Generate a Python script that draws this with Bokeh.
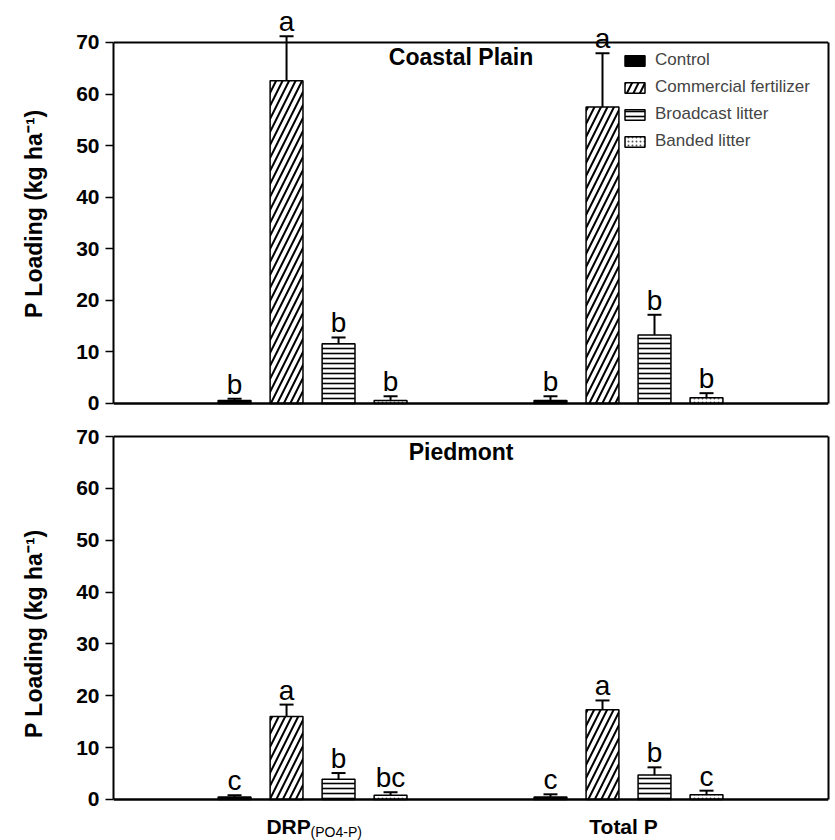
from bokeh.plotting import figure
from bokeh.layouts import column
from bokeh.models import (ColumnDataSource, Whisker, TeeHead, LabelSet, Label,
                          Legend, LegendItem, Range1d, FixedTicker, LinearAxis, Span)
from bokeh.core.properties import value
from bokeh.embed import file_html
from bokeh.resources import INLINE

# ---------------- data ----------------
groups = ["DRP", "Total P"]
treatments = ["Control", "Commercial fertilizer", "Broadcast litter", "Banded litter"]

coastal_drp = [0.6, 62.6, 11.6, 0.6]
coastal_drp_err = [0.3, 8.6, 1.2, 0.8]
coastal_tp = [0.6, 57.5, 13.3, 1.1]
coastal_tp_err = [0.8, 10.4, 3.9, 0.9]
coastal_letters_drp = ["b", "a", "b", "b"]
coastal_letters_tp = ["b", "a", "b", "b"]

piedmont_drp = [0.5, 16.0, 3.9, 0.8]
piedmont_drp_err = [0.3, 2.3, 1.2, 0.6]
piedmont_tp = [0.5, 17.3, 4.7, 0.9]
piedmont_tp_err = [0.5, 1.8, 1.5, 0.8]
piedmont_letters_drp = ["c", "a", "b", "bc"]
piedmont_letters_tp = ["c", "a", "b", "c"]

y_ticks = [0, 10, 20, 30, 40, 50, 60, 70]
y_max = 70

# ---------------- styling ----------------
FONT = "Liberation Sans"
styles = [
    dict(fill_color="black"),
    dict(fill_color="white", hatch_pattern="/", hatch_scale=13, hatch_weight=2, hatch_color="black"),
    dict(fill_color="white", hatch_pattern="-", hatch_scale=5, hatch_weight=1.6, hatch_color="black"),
    dict(fill_color="white", hatch_pattern=".", hatch_scale=4, hatch_weight=1.2, hatch_color="#555555"),
]
group_pos = [1, 2]
offsets = [-1.5, -0.5, 0.5, 1.5]
step = 0.1646
bar_w = 0.104


def make_panel(drp, drp_err, tp, tp_err, let_drp, let_tp, title, legend, y_lo, y_hi):
    p = figure(frame_width=715, frame_height=420,
               x_range=Range1d(0.37, 2.633), y_range=Range1d(y_lo, y_hi),
               output_backend="svg", toolbar_location=None,
               min_border_left=113, min_border_right=5,
               min_border_top=0, min_border_bottom=0)
    p.grid.visible = False
    p.xaxis.visible = False
    p.outline_line_color = None
    p.background_fill_color = "white"
    p.border_fill_color = "white"

    ax = p.yaxis[0]
    ax.bounds = (0, y_max)
    ax.ticker = FixedTicker(ticks=y_ticks)
    ax.minor_tick_line_color = None
    ax.major_tick_out = 8
    ax.major_tick_in = 0
    ax.major_tick_line_width = 1.5
    ax.axis_line_width = 2
    ax.major_label_standoff = 6
    ax.major_label_text_font = FONT
    ax.major_label_text_font_style = "bold"
    ax.major_label_text_font_size = "21px"
    ax.major_label_text_color = "black"
    ax.axis_label = "P Loading  (kg ha\u207b\u00b9)"
    ax.axis_label_text_font = FONT
    ax.axis_label_text_font_style = "bold"
    ax.axis_label_text_font_size = "23px"
    ax.axis_label_standoff = 26
    ax.axis_label_text_color = "black"

    # right border of the frame
    rax = LinearAxis(bounds=(0, y_max), ticker=FixedTicker(ticks=[]),
                     axis_line_width=2, major_label_text_font_size="0px",
                     major_tick_line_color=None, minor_tick_line_color=None)
    p.add_layout(rax, "right")
    # top and bottom borders
    p.add_layout(Span(location=y_max, dimension="width", line_color="black", line_width=2))
    p.add_layout(Span(location=0, dimension="width", line_color="black", line_width=2.5))

    items = []
    xs_all, lo_all, up_all, let_all = [], [], [], []
    for i, name in enumerate(treatments):
        xs = [g + offsets[i] * step for g in group_pos]
        tops = [drp[i], tp[i]]
        src = ColumnDataSource(dict(x=xs, top=tops))
        r = p.vbar(x="x", top="top", width=bar_w, source=src,
                   line_color="black", line_width=1.5, **styles[i])
        items.append(LegendItem(label=name, renderers=[r]))
        xs_all += xs
        lo_all += tops
        up_all += [drp[i] + drp_err[i], tp[i] + tp_err[i]]
        let_all += [let_drp[i], let_tp[i]]

    esrc = ColumnDataSource(dict(x=xs_all, lower=lo_all, upper=up_all, letter=let_all))
    w = Whisker(base="x", lower="lower", upper="upper", source=esrc, dimension="height",
                line_color="black", line_width=2,
                upper_head=TeeHead(size=14, line_width=2, line_color="black"),
                lower_head=None, level="overlay")
    p.add_layout(w)
    ls = LabelSet(x="x", y="upper", text="letter", source=esrc, y_offset=5,
                  text_align="center", text_baseline="alphabetic",
                  text_font=value(FONT), text_font_size=value("28px"), text_color="black")
    p.add_layout(ls)

    p.add_layout(Label(x=1.47, y=y_max, y_offset=-15, text=title, text_align="center",
                       text_baseline="middle", text_font=FONT, text_font_style="bold",
                       text_font_size="23px", text_color="black"))

    if legend:
        lg = Legend(items=items, location=(509, 269), label_text_font=FONT,
                    label_text_font_size="17px", glyph_width=25, glyph_height=13,
                    label_height=20, spacing=7, padding=0, margin=0,
                    label_standoff=8, border_line_color=None,
                    background_fill_alpha=0)
        p.add_layout(lg)
    return p


p1 = make_panel(coastal_drp, coastal_drp_err, coastal_tp, coastal_tp_err,
                coastal_letters_drp, coastal_letters_tp, "Coastal Plain", True, -3.30, 78.14)
p2 = make_panel(piedmont_drp, piedmont_drp_err, piedmont_tp, piedmont_tp_err,
                piedmont_letters_drp, piedmont_letters_tp, "Piedmont", False, -7.91, 73.09)

# x category labels for bottom panel
p2.add_layout(Label(x=group_pos[0], y=0, x_offset=-24, y_offset=-27, text=groups[0],
                    text_align="center", text_baseline="middle", text_font=FONT,
                    text_font_style="bold", text_font_size="21px", text_color="black"))
p2.add_layout(Label(x=group_pos[0], y=0, x_offset=-2, y_offset=-33, text="(PO4-P)",
                    text_align="left", text_baseline="middle", text_font=FONT,
                    text_font_size="14px", text_color="black"))
p2.add_layout(Label(x=group_pos[1], y=0, x_offset=-5, y_offset=-27, text=groups[1],
                    text_align="center", text_baseline="middle", text_font=FONT,
                    text_font_style="bold", text_font_size="21px", text_color="black"))

layout = column(p1, p2, spacing=0)
open("out.html", "w").write(file_html(layout, INLINE))
